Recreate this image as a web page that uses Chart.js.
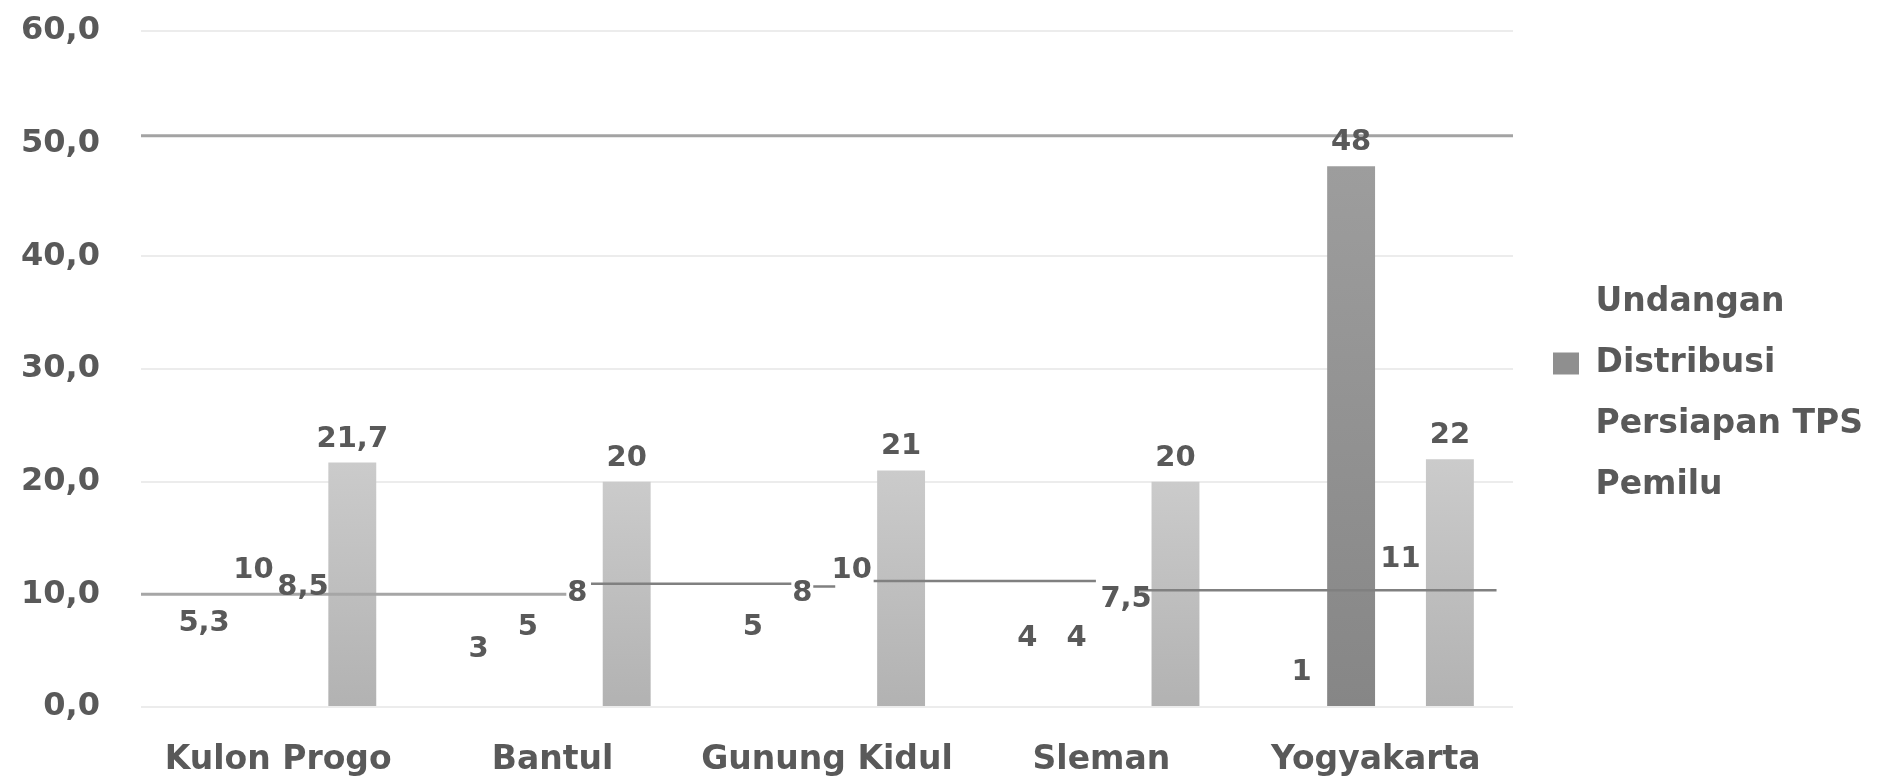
<!DOCTYPE html>
<html>
<head>
<meta charset="utf-8">
<script src="https://cdn.jsdelivr.net/npm/chart.js@4/dist/chart.umd.min.js"></script>
<style>
  html, body { margin: 0; padding: 0; background: #ffffff; }
  #wrap { width: 1880px; height: 779px; }
</style>
</head>
<body>
<div id="wrap"><canvas id="grafik"></canvas></div>
<script>
// Wilayah dan nilai tiap tahapan
const regions = ['Kulon Progo', 'Bantul', 'Gunung Kidul', 'Sleman', 'Yogyakarta'];
const undangan = [5.3, 3, 5, 4, 1];
const distribusi = [10, 5, 8, 4, 48];
const persiapanTPS = [8.5, 8, 10, 7.5, 11];
const pemilu = [21.7, 20, 21, 20, 22];

// Sumbu nilai
const yMin = 0;
const yMax = 60;
const yStep = 10;

// Garis bantu (x dalam satuan indeks wilayah, null = putus)
const garisAtas = [{x: -0.5, y: 50.7}, {x: 4.5, y: 50.7}];
const garisBawahKiri = [{x: -0.5, y: 10.0}, {x: 1.05, y: 10.0}];
const garisBawahKanan = [
  {x: 1.14, y: 10.94}, {x: 1.87, y: 10.94}, {x: 1.87, y: null},
  {x: 1.95, y: 10.7}, {x: 2.03, y: 10.7}, {x: 2.03, y: null},
  {x: 2.17, y: 11.18}, {x: 2.98, y: 11.18}, {x: 2.98, y: null},
  {x: 3.13, y: 10.36}, {x: 4.44, y: 10.36}
];

const FONT = "'DejaVu Sans', sans-serif";
const TEKS = '#595959';

const koma = v => String(v).replace('.', ',');

function gradasi(atas, bawah, tampil) {
  return (c) => {
    if (tampil && !tampil[c.dataIndex]) return 'rgba(255,255,255,0)';
    const chart = c.chart;
    if (!chart.chartArea || c.raw == null) return bawah;
    const y = chart.scales.y;
    const g = chart.ctx.createLinearGradient(0, y.getPixelForValue(c.raw), 0, y.getPixelForValue(0));
    g.addColorStop(0, atas);
    g.addColorStop(1, bawah);
    return g;
  };
}

const distribusiTampil = [false, false, false, false, true];
const warnaLegenda = ['rgba(0,0,0,0)', '#8f8f8f', 'rgba(0,0,0,0)', 'rgba(0,0,0,0)'];

// Lebar kotak legenda dibuat tetap
const legendaTetap = {
  id: 'legendaTetap',
  beforeLayout(chart) {
    const lg = chart.legend;
    if (lg && !lg._lebarTetap) {
      const asli = lg.fit.bind(lg);
      lg.fit = function () { asli(); this.width = 355; };
      lg._lebarTetap = true;
    }
  }
};

// Garis bantu mendatar, dipetakan lewat skala x dan y
const garisBantu = {
  id: 'garisBantu',
  afterDatasetsDraw(chart) {
    const {ctx, scales: {x, y}} = chart;
    const daftar = [
      {titik: garisAtas, warna: '#a3a3a3', tebal: 3},
      {titik: garisBawahKiri, warna: '#a6a6a6', tebal: 3},
      {titik: garisBawahKanan, warna: '#808080', tebal: 2.5}
    ];
    ctx.save();
    daftar.forEach(g => {
      ctx.beginPath();
      let baru = true;
      g.titik.forEach(p => {
        if (p.y == null) { baru = true; return; }
        const px = x.getPixelForValue(p.x);
        const py = y.getPixelForValue(p.y);
        if (baru) ctx.moveTo(px, py); else ctx.lineTo(px, py);
        baru = false;
      });
      ctx.strokeStyle = g.warna;
      ctx.lineWidth = g.tebal;
      ctx.stroke();
    });
    ctx.restore();
  }
};

// Label nilai di atas tiap batang
const labelNilai = {
  id: 'labelNilai',
  afterDatasetsDraw(chart) {
    const ctx = chart.ctx;
    ctx.save();
    ctx.font = 'bold 29px ' + FONT;
    ctx.fillStyle = TEKS;
    ctx.textAlign = 'center';
    ctx.textBaseline = 'alphabetic';
    chart.data.datasets.forEach((ds, i) => {
      chart.getDatasetMeta(i).data.forEach((bar, j) => {
        ctx.fillText(koma(ds.data[j]), bar.x, bar.y - 16);
      });
    });
    ctx.restore();
  }
};

const batang = {
  barPercentage: 0.97,
  categoryPercentage: 0.72,
  borderWidth: 0
};

new Chart(document.getElementById('grafik'), {
  type: 'bar',
  data: {
    labels: regions,
    datasets: [
      Object.assign({label: 'Undangan', data: undangan, backgroundColor: 'rgba(255,255,255,0)'}, batang),
      Object.assign({label: 'Distribusi', data: distribusi, backgroundColor: gradasi('#9d9d9d', '#868686', distribusiTampil)}, batang),
      Object.assign({label: 'Persiapan TPS', data: persiapanTPS, backgroundColor: 'rgba(255,255,255,0)'}, batang),
      Object.assign({label: 'Pemilu', data: pemilu, backgroundColor: gradasi('#cbcbcb', '#b2b2b2')}, batang)
    ]
  },
  options: {
    responsive: true,
    maintainAspectRatio: false,
    animation: false,
    devicePixelRatio: 1,
    layout: {padding: {top: 31, right: 0, bottom: 0, left: 0}},
    scales: {
      x: {
        type: 'category',
        offset: true,
        grid: {display: false, drawTicks: false},
        border: {display: false},
        ticks: {
          color: TEKS,
          font: {family: FONT, size: 33, weight: 'bold'},
          padding: 33.5,
          maxRotation: 0,
          autoSkip: false
        },
        afterFit: s => { s.height = 72; }
      },
      y: {
        min: yMin,
        max: yMax,
        border: {display: false},
        grid: {
          drawTicks: true,
          tickLength: 41,
          tickColor: 'rgba(0,0,0,0)',
          lineWidth: 2,
          color: c => (c.tick && (c.tick.value === 50 || c.tick.value === 10)) ? 'rgba(0,0,0,0)' : '#ececec'
        },
        ticks: {
          stepSize: yStep,
          color: TEKS,
          padding: 0,
          font: {family: FONT, size: 32, weight: 'bold'},
          callback: v => Number(v).toFixed(1).replace('.', ',')
        },
        afterFit: s => { s.width = 141; }
      },
      yKanan: {
        position: 'right',
        display: true,
        grid: {display: false, drawTicks: false},
        border: {display: false},
        ticks: {display: false},
        afterFit: s => { s.width = 12; }
      }
    },
    plugins: {
      tooltip: {enabled: false},
      legend: {
        position: 'right',
        align: 'start',
        title: {display: true, text: '', font: {size: 10}, padding: {top: 215, bottom: 0}},
        labels: {
          color: TEKS,
          font: {family: FONT, size: 33, weight: 'bold'},
          boxWidth: 26,
          boxHeight: 22,
          padding: 28,
          generateLabels: chart => {
            const items = Chart.defaults.plugins.legend.labels.generateLabels(chart);
            items.forEach(it => {
              it.fillStyle = warnaLegenda[it.datasetIndex];
              it.strokeStyle = 'rgba(0,0,0,0)';
              it.lineWidth = 0;
            });
            return items;
          }
        }
      }
    }
  },
  plugins: [legendaTetap, garisBantu, labelNilai]
});
</script>
</body>
</html>
